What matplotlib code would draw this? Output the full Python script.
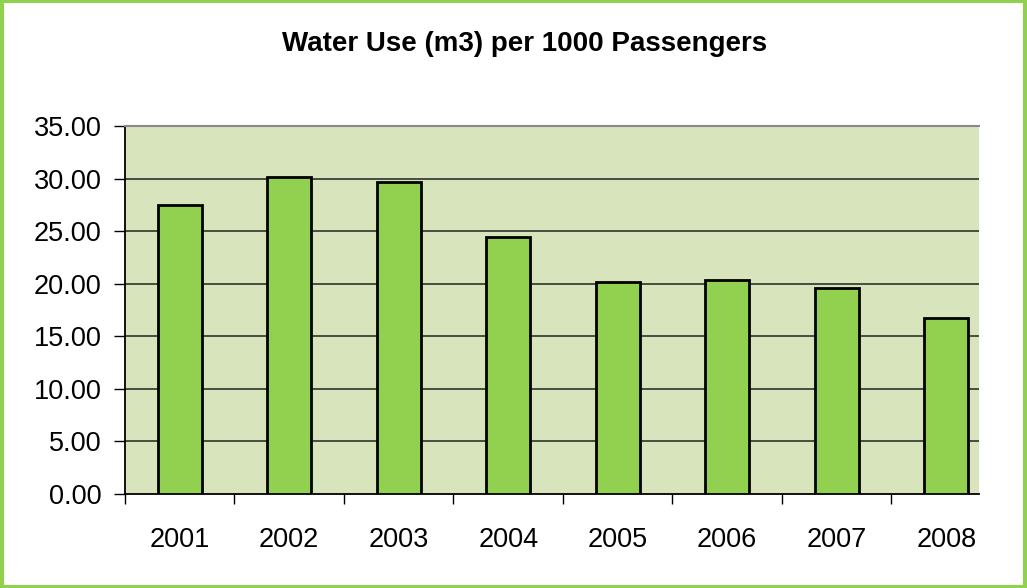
import matplotlib
matplotlib.use("Agg")
import matplotlib.pyplot as plt
from matplotlib.patches import Rectangle
import numpy as np

years = ["2001", "2002", "2003", "2004", "2005", "2006", "2007", "2008"]
water_use = [27.5, 30.15, 29.7, 24.45, 20.2, 20.35, 19.6, 16.75]
y_ticks = [0, 5, 10, 15, 20, 25, 30, 35]

plt.rcParams['font.family'] = ['Liberation Sans', 'DejaVu Sans']

fig = plt.figure(figsize=(10.27, 5.88), dpi=100)
ax = fig.add_axes([0.1217, 0.1599, 0.8316, 0.6258])
ax.set_facecolor('#D8E4BC')

x = np.arange(len(years))
ax.bar(x, water_use, width=0.40, color='#92D050', edgecolor='black',
       linewidth=2, zorder=3)

# plot area is cut short on the right, as in the original chart
ax.set_xlim(-0.5, 7.3)
ax.set_ylim(0, 35)
ax.set_yticks(y_ticks)
ax.set_yticklabels([f"{v:.2f}" for v in y_ticks], fontsize=19.5)
for v in y_ticks[1:-1]:
    ax.axhline(v, color='#3a4238', linewidth=1.3, zorder=1)

# category labels centred, tick marks on the boundaries
ax.set_xticks(np.arange(len(years)) - 0.5)
ax.set_xticklabels([])
ax.set_xticks(x, minor=True)
ax.set_xticklabels(years, minor=True, fontsize=19.5)
ax.tick_params(axis='x', which='minor', length=0, pad=24)
ax.tick_params(axis='x', which='major', length=7, width=1, direction='out')
ax.tick_params(axis='y', length=8, width=1, direction='out', pad=9)

ax.spines['right'].set_visible(False)
ax.spines['top'].set_color('#888888')
ax.spines['top'].set_linewidth(1.5)
ax.spines['left'].set_linewidth(1.3)
ax.spines['bottom'].set_linewidth(1.3)

fig.text(0.511, 0.926, "Water Use (m3) per 1000 Passengers",
         ha='center', va='center', fontsize=20, fontweight='bold')

# green frame round the whole chart
fig.patches.append(Rectangle((0.0015, 0.0025), 0.997, 0.995, transform=fig.transFigure,
                             fill=False, edgecolor='#92D050', linewidth=3))

fig.savefig("out.png", dpi=100, facecolor='white')
